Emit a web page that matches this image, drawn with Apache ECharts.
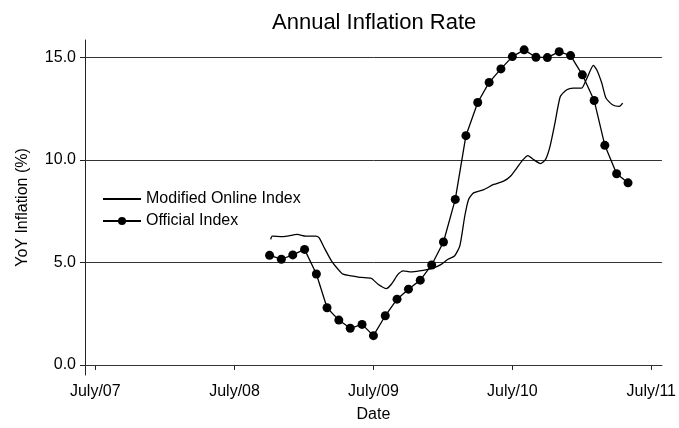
<!DOCTYPE html>
<html>
<head>
<meta charset="utf-8">
<title>Annual Inflation Rate</title>
<script src="https://cdn.jsdelivr.net/npm/echarts@6/dist/echarts.min.js"></script>
<style>
  html, body { margin: 0; padding: 0; background: #fff; }
  #chart { width: 679px; height: 428px; }
</style>
</head>
<body>
<div id="chart"></div>
<script>
// ---- data ----
const officialDates = [
  "2008-10-01", "2008-11-01", "2008-12-01",
  "2009-01-01", "2009-02-01", "2009-03-01", "2009-04-01", "2009-05-01", "2009-06-01",
  "2009-07-01", "2009-08-01", "2009-09-01", "2009-10-01", "2009-11-01", "2009-12-01",
  "2010-01-01", "2010-02-01", "2010-03-01", "2010-04-01", "2010-05-01", "2010-06-01",
  "2010-07-01", "2010-08-01", "2010-09-01", "2010-10-01", "2010-11-01", "2010-12-01",
  "2011-01-01", "2011-02-01", "2011-03-01", "2011-04-01", "2011-05-01",
];
const officialValues = [
  5.35, 5.16, 5.37,
  5.64, 4.44, 2.79, 2.19, 1.79, 1.98,
  1.43, 2.40, 3.21, 3.70, 4.14, 4.88,
  6.00, 8.08, 11.19, 12.81, 13.79, 14.45,
  15.05, 15.38, 15.02, 15.00, 15.29, 15.10,
  14.16, 12.91, 10.72, 9.33, 8.89,
];

const onlineDates = [
  "2008-10-04", "2008-10-08", "2008-11-04", "2008-12-13", "2009-01-04", "2009-01-30",
  "2009-02-08", "2009-02-24", "2009-03-13", "2009-03-30", "2009-04-12", "2009-05-04",
  "2009-05-30", "2009-06-26", "2009-07-13", "2009-08-04", "2009-08-17", "2009-09-04",
  "2009-09-17", "2009-10-08", "2009-10-30", "2009-11-21", "2009-12-08", "2009-12-26",
  "2010-01-13", "2010-01-30", "2010-02-13", "2010-02-26", "2010-03-08", "2010-03-21",
  "2010-04-17", "2010-05-13", "2010-06-08", "2010-06-26", "2010-07-13", "2010-07-29",
  "2010-08-11", "2010-08-26", "2010-09-13", "2010-09-26", "2010-10-08", "2010-10-21",
  "2010-11-04", "2010-11-21", "2010-12-08", "2010-12-30", "2011-01-13", "2011-01-30",
  "2011-02-08", "2011-02-21", "2011-03-04", "2011-03-21", "2011-04-08", "2011-04-17",
];
const onlineValues = [
  6.13, 6.29, 6.26, 6.37, 6.29, 6.29,
  6.21, 5.64, 5.07, 4.67, 4.43, 4.35,
  4.27, 4.22, 3.94, 3.73, 3.94, 4.43,
  4.59, 4.54, 4.59, 4.67, 4.75, 4.91,
  5.16, 5.32, 5.81, 7.27, 8.08, 8.40,
  8.56, 8.81, 8.97, 9.21, 9.62, 10.02,
  10.22, 10.02, 9.83, 10.02, 10.67, 11.81,
  13.10, 13.43, 13.51, 13.51, 14.00, 14.62,
  14.40, 13.76, 13.03, 12.70, 12.62, 12.78,
];

const yTicks = [0, 5, 10, 15];
const xTickDates = ["2007-07-01", "2008-07-01", "2009-07-01", "2010-07-01", "2011-07-01"];
const xRange = ["2007-06-04", "2011-07-29"];

// ---- chart ----
const FONT = "Liberation Sans, Arial, Helvetica, sans-serif";
const ts = (d) => Date.parse(d + "T00:00:00Z");
const xTicks = xTickDates.map(ts);

const chart = echarts.init(document.getElementById("chart"), null, { renderer: "canvas" });

chart.setOption({
  animation: false,
  backgroundColor: "#fff",
  textStyle: { fontFamily: FONT, color: "#000" },
  title: {
    text: "Annual Inflation Rate",
    left: 272,
    top: 12,
    padding: 0,
    textStyle: { fontFamily: FONT, fontSize: 22, fontWeight: "normal", color: "#000" },
  },
  legend: {
    orient: "vertical",
    left: 97,
    top: 186,
    itemWidth: 38,
    itemHeight: 10,
    itemGap: 6,
    textStyle: { fontFamily: FONT, fontSize: 16, color: "#000" },
    data: [
      { name: "Modified Online Index", itemStyle: { opacity: 0 } },
      { name: "Official Index" },
    ],
  },
  grid: { left: 85, right: 14, top: 40, bottom: 52 },
  xAxis: {
    type: "value",
    min: ts(xRange[0]),
    max: ts(xRange[1]),
    name: "Date",
    nameLocation: "middle",
    nameGap: 32,
    nameTextStyle: { fontFamily: FONT, fontSize: 16, color: "#000" },
    axisLine: { lineStyle: { color: "#222", width: 1 } },
    axisTick: { customValues: xTicks, length: 5, lineStyle: { color: "#222" } },
    axisLabel: {
      customValues: xTicks,
      fontFamily: FONT,
      fontSize: 16,
      color: "#000",
      margin: 9,
      formatter: (v) => "July/" + String(new Date(v).getUTCFullYear()).slice(2),
    },
    splitLine: { show: false },
  },
  yAxis: {
    type: "value",
    min: -0.49,
    max: 15.86,
    name: "YoY Inflation (%)",
    nameLocation: "middle",
    nameGap: 54,
    nameTextStyle: { fontFamily: FONT, fontSize: 16, color: "#000" },
    axisLine: { show: true, lineStyle: { color: "#222", width: 1 } },
    axisTick: { show: true, customValues: yTicks, length: 5, lineStyle: { color: "#222" } },
    axisLabel: {
      customValues: yTicks,
      fontFamily: FONT,
      fontSize: 16,
      color: "#000",
      margin: 9,
      formatter: (v) => v.toFixed(1),
    },
    splitLine: { show: false },
  },
  series: [
    {
      name: "Modified Online Index",
      type: "line",
      data: onlineDates.map((d, i) => [ts(d), onlineValues[i]]),
      smooth: 0.2,
      symbol: "none",
      lineStyle: { color: "#000", width: 1.3 },
      itemStyle: { color: "#000" },
      markLine: {
        silent: true,
        symbol: "none",
        label: { show: false },
        lineStyle: { color: "#333", width: 1, type: "solid" },
        data: yTicks.map((t) => ({ yAxis: t })),
        z: 1,
      },
      z: 3,
    },
    {
      name: "Official Index",
      type: "line",
      data: officialDates.map((d, i) => [ts(d), officialValues[i]]),
      symbol: "circle",
      symbolSize: 9,
      showSymbol: true,
      lineStyle: { color: "#000", width: 1.3 },
      itemStyle: { color: "#000" },
      z: 4,
    },
  ],
});
</script>
</body>
</html>
